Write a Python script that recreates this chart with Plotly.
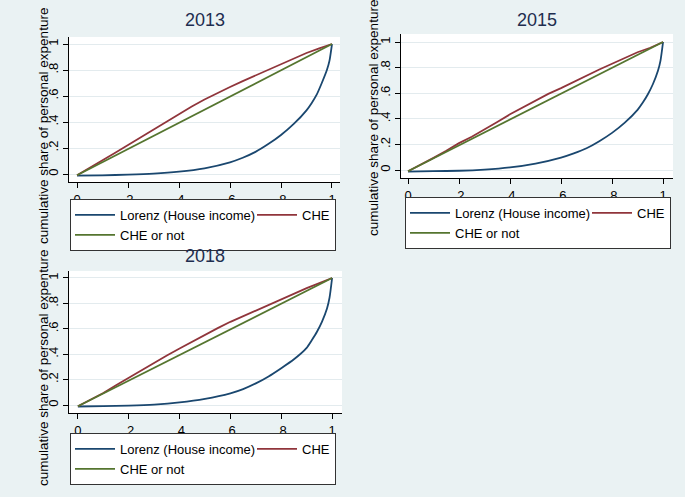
import plotly.graph_objects as go

# ---------------- data ----------------
years = ["2013", "2015", "2018"]

x_che = [0, 0.05, 0.1, 0.15, 0.2, 0.25, 0.3, 0.35, 0.4, 0.45, 0.5,
         0.55, 0.6, 0.65, 0.7, 0.75, 0.8, 0.85, 0.9, 0.95, 1.0]
che_2013 = [-0.01, 0.045, 0.106, 0.163, 0.222, 0.282, 0.343, 0.403, 0.464, 0.52, 0.573,
            0.623, 0.669, 0.715, 0.759, 0.804, 0.848, 0.89, 0.931, 0.967, 1.0]
che_2015 = [-0.01, 0.04, 0.095, 0.15, 0.21, 0.26, 0.315, 0.375, 0.435, 0.49, 0.54,
            0.595, 0.64, 0.69, 0.74, 0.785, 0.83, 0.875, 0.92, 0.955, 1.0]
che_2018 = [-0.01, 0.04, 0.095, 0.155, 0.215, 0.27, 0.33, 0.39, 0.445, 0.50, 0.55,
            0.605, 0.655, 0.70, 0.745, 0.79, 0.835, 0.88, 0.92, 0.96, 1.0]

x_lorenz = [0, 0.1, 0.2, 0.3, 0.4, 0.5, 0.6, 0.65, 0.7, 0.75, 0.8, 0.85,
            0.9, 0.92, 0.94, 0.96, 0.98, 0.99, 1.0]
lorenz_2013 = [-0.013, -0.01, -0.005, 0.003, 0.018, 0.044, 0.09, 0.125, 0.17, 0.23, 0.30, 0.385,
               0.49, 0.545, 0.61, 0.70, 0.80, 0.87, 1.0]
lorenz_2015 = [-0.012, -0.009, -0.006, 0.003, 0.02, 0.05, 0.097, 0.13, 0.17, 0.225, 0.29, 0.37,
               0.47, 0.525, 0.59, 0.67, 0.775, 0.855, 1.0]
lorenz_2018 = [-0.012, -0.009, -0.005, 0.003, 0.02, 0.048, 0.092, 0.125, 0.17, 0.225, 0.29, 0.36,
               0.45, 0.51, 0.575, 0.655, 0.76, 0.845, 1.0]

x_equal = [0, 1]
equal_line = [-0.01, 1.0]

che_series = [che_2013, che_2015, che_2018]
lorenz_series = [lorenz_2013, lorenz_2015, lorenz_2018]

tick_vals = [0, 0.2, 0.4, 0.6, 0.8, 1]
tick_text = ["0", ".2", ".4", ".6", ".8", "1"]

ytitle = "cumulative share of personal expenture"
names = ["Lorenz (House income)", "CHE", "CHE or not"]

# ---------------- style ----------------
W, H = 685, 497
FONT = "Liberation Sans, Arial, sans-serif"
NAVY, MAROON, GREEN = "#1a476f", "#90353b", "#55752f"
BG = "#eaf2f3"
GRID = "#e3ebee"
TITLE_C = "#1e2d4f"

# pixel layout per panel: plot area (l, r, t, b), x range, y range,
# title centre, y-title centre, legend top-left
panels = [
    dict(box=(69, 340, 37, 182), xr=(-0.0314, 1.0314), yr=(-0.0615, 1.054),
         title=(205, 20), ytitle=(43, 126), leg=(70, 199)),
    dict(box=(401, 673, 34, 178), xr=(-0.0275, 1.039), yr=(-0.0625, 1.0625),
         title=(537, 20), ytitle=(373, 118), leg=(405, 197)),
    dict(box=(69, 342, 271, 413), xr=(-0.035, 1.039), yr=(-0.063, 1.055),
         title=(205, 256), ytitle=(43, 368), leg=(70, 433)),
]

def px(v):
    return v / W

def py(v):
    return 1 - v / H

fig = go.Figure()
annotations = []
layout = {}

for i, (yr_lbl, p) in enumerate(zip(years, panels)):
    sfx = "" if i == 0 else str(i + 1)
    xa, ya = "x" + sfx, "y" + sfx
    leg = "legend" + sfx
    l, r, t, b = p["box"]

    fig.add_trace(go.Scatter(x=x_lorenz, y=lorenz_series[i], mode="lines",
                             name=names[0],
                             line=dict(color=NAVY, width=1.8, shape="spline", smoothing=0.6),
                             xaxis=xa, yaxis=ya, legend=leg, legendgroup="a" + sfx,
                             legendrank=1, legendwidth=127))
    fig.add_trace(go.Scatter(x=x_che, y=che_series[i], mode="lines",
                             name=names[1], line=dict(color=MAROON, width=1.8),
                             xaxis=xa, yaxis=ya, legend=leg, legendgroup="b" + sfx,
                             legendrank=3, legendwidth=28))
    fig.add_trace(go.Scatter(x=x_equal, y=equal_line, mode="lines",
                             name=names[2], line=dict(color=GREEN, width=1.8),
                             xaxis=xa, yaxis=ya, legend=leg, legendgroup="a" + sfx,
                             legendrank=2, legendwidth=127))

    axis_common = dict(showline=True, linecolor="black", linewidth=1,
                       ticks="outside", ticklen=5, tickcolor="black", tickwidth=1,
                       tickvals=tick_vals, ticktext=tick_text, zeroline=False,
                       tickfont=dict(family=FONT, size=13, color="black"))
    layout["xaxis" + sfx] = dict(domain=[px(l), px(r)], range=list(p["xr"]),
                                 anchor=ya, showgrid=False, **axis_common)
    layout["yaxis" + sfx] = dict(domain=[py(b), py(t)], range=list(p["yr"]),
                                 anchor=xa, showgrid=True, gridcolor=GRID, gridwidth=1,
                                 tickangle=-90, **axis_common)
    lx, ly = p["leg"]
    layout[leg] = dict(orientation="h", traceorder="grouped", x=px(lx), y=py(ly),
                       xanchor="left", yanchor="top", bgcolor="white",
                       bordercolor="#333333", borderwidth=1, itemwidth=40,
                       tracegroupgap=0,
                       font=dict(family=FONT, size=13, color="black"))

    tx, ty = p["title"]
    annotations.append(dict(text=yr_lbl, x=px(tx), y=py(ty), xref="paper", yref="paper",
                            xanchor="center", yanchor="middle", showarrow=False,
                            font=dict(family=FONT, size=18, color=TITLE_C)))
    yx, yy = p["ytitle"]
    annotations.append(dict(text=ytitle, x=px(yx), y=py(yy), xref="paper", yref="paper",
                            xanchor="center", yanchor="middle", showarrow=False,
                            textangle=-90,
                            font=dict(family=FONT, size=13.5, color="black")))

fig.update_layout(width=W, height=H, margin=dict(l=0, r=0, t=0, b=0),
                  paper_bgcolor=BG, plot_bgcolor="white",
                  annotations=annotations, **layout)

fig.write_html("out.html",
               config={"displayModeBar": False},
               post_script="document.body.style.margin='0px';"
                           "document.body.style.overflow='hidden';")
